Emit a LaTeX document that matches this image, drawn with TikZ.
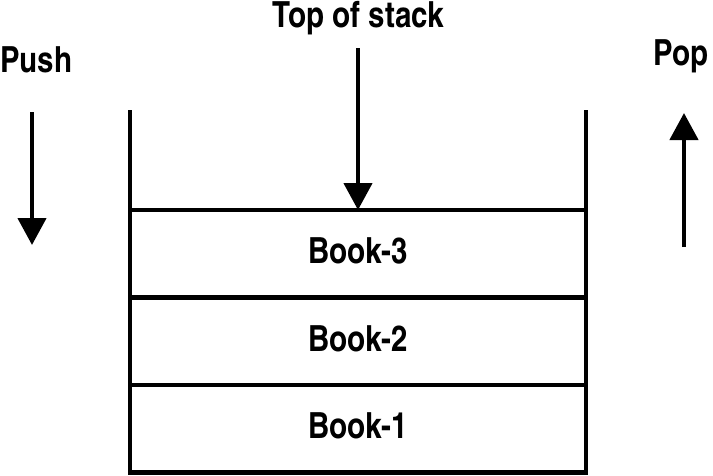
\documentclass[tikz,border=0pt]{standalone}
\usepackage{fontspec}
\setmainfont{texgyreheroscn}[Extension=.otf, UprightFont=*-bold, BoldFont=*-bold]
\usetikzlibrary{arrows.meta}
\begin{document}
\begin{tikzpicture}[x=1pt,y=-1pt,
  ln/.style={line width=4.5pt},
  arr/.style={ln,-{Triangle[width=28pt,length=27pt]}},
  book/.style={draw,ln,outer sep=0pt,minimum width=456pt,minimum height=87.5pt,inner sep=0pt,text depth=6pt,font=\fontsize{36}{40}\selectfont},
  lbl/.style={inner sep=0pt,font=\fontsize{36}{40}\selectfont}]
\useasboundingbox (0,0) rectangle (713,475);
\node[lbl,anchor=base] (tos) at (358.5,27) {Top of stack};
\node[lbl,anchor=base west] (push) at (0,72) {Push};
\node[lbl,anchor=base east] (pop) at (709,65) {Pop};
\node[book] (b3) at (358,253.75) {Book-3};
\node[book] (b2) at (358,341.25) {Book-2};
\node[book] (b1) at (358,428.75) {Book-1};
\coordinate (lw) at (130,110);
\coordinate (rw) at (586,110);
\draw[ln] (lw) -- (b3.north west);
\draw[ln] (rw) -- (b3.north east);
\coordinate (tosA) at (358,48);
\draw[arr] (tosA) -- (b3.north);
\coordinate (pushA) at (32,112);
\coordinate (pushB) at (32,245);
\draw[arr] (pushA) -- (pushB);
\coordinate (popA) at (684,247);
\coordinate (popB) at (684,113);
\draw[arr] (popA) -- (popB);
\end{tikzpicture}
\end{document}
